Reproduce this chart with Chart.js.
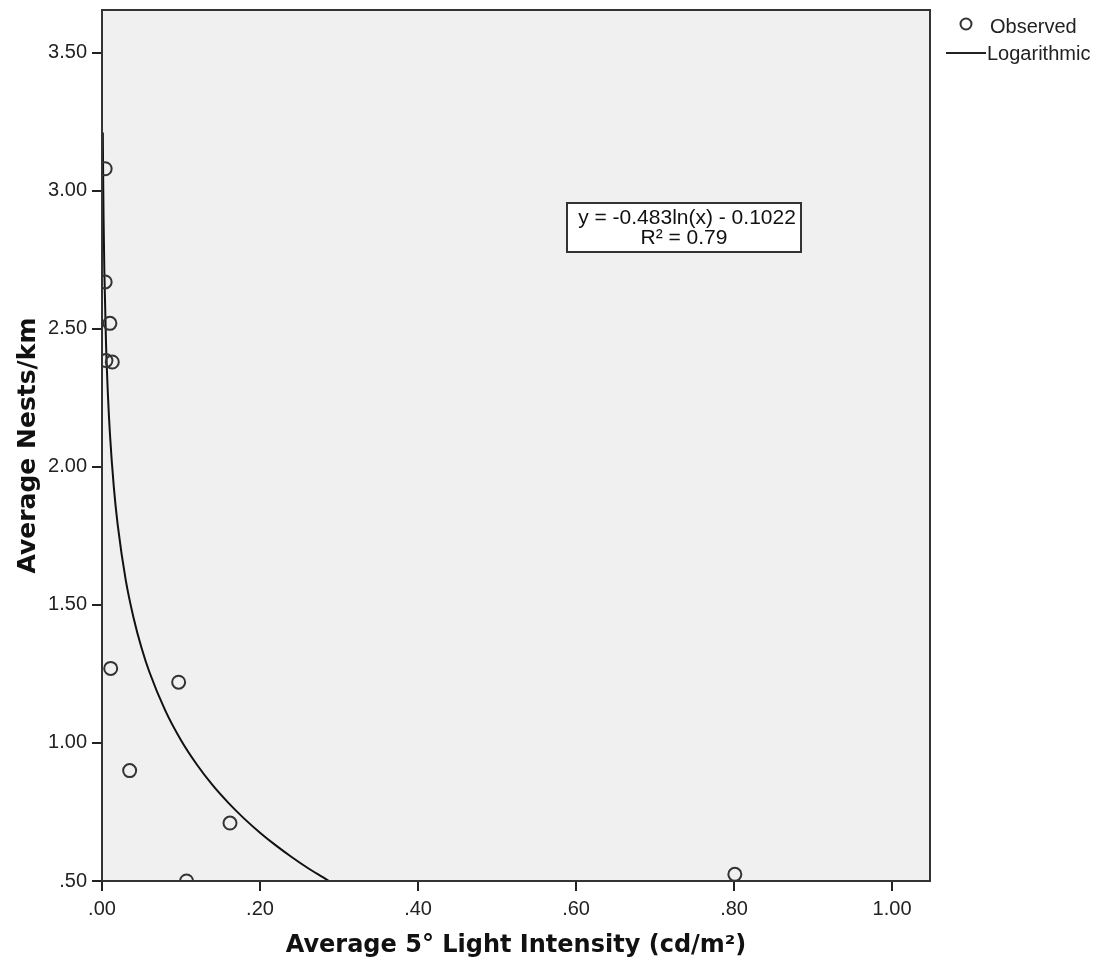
<!DOCTYPE html>
<html>
<head>
<meta charset="utf-8">
<script src="https://cdn.jsdelivr.net/npm/chart.js@4.4.1/dist/chart.umd.min.js"></script>
<style>
html,body{margin:0;padding:0;background:#fff;}
#wrap{position:relative;width:1105px;height:977px;}
</style>
</head>
<body>
<div id="wrap"><canvas id="c" width="1105" height="977"></canvas></div>
<script>
// Observed data (Average 5° light intensity vs average nests/km)
const obsX = [0.004, 0.004, 0.010, 0.005, 0.013, 0.011, 0.097, 0.035, 0.162, 0.107, 0.801];
const obsY = [3.08, 2.67, 2.52, 2.385, 2.38, 1.27, 1.22, 0.90, 0.71, 0.50, 0.524];

// Logarithmic fit curve points
const fitX = [0.00105, 0.0015, 0.002, 0.003, 0.005, 0.0075, 0.01, 0.015, 0.02, 0.03, 0.04, 0.05, 0.06, 0.08, 0.10, 0.12, 0.14, 0.16, 0.18, 0.20, 0.22, 0.24, 0.26, 0.28, 0.2874];
const fitY = [3.211, 3.038, 2.899, 2.704, 2.457, 2.261, 2.122, 1.926, 1.787, 1.591, 1.453, 1.345, 1.257, 1.118, 1.010, 0.922, 0.847, 0.783, 0.726, 0.675, 0.629, 0.587, 0.548, 0.513, 0.500];

const xTicks = [0, 0.2, 0.4, 0.6, 0.8, 1.0];
const yTicks = [0.5, 1.0, 1.5, 2.0, 2.5, 3.0, 3.5];

const xTitle = 'Average 5° Light Intensity (cd/m²)';
const yTitle = 'Average Nests/km';
const legendLabels = ['Observed', 'Logarithmic'];
const eqLines = ['y = -0.483ln(x) - 0.1022', 'R² = 0.79'];

const fmt = v => { const s = Number(v).toFixed(2); return s.startsWith('0.') ? s.slice(1) : s; };

const decor = {
  id: 'decor',
  beforeDatasetsDraw(chart) {
    const {ctx, chartArea: a} = chart;
    ctx.save();
    ctx.fillStyle = '#f0f0f0';
    ctx.fillRect(a.left, a.top, a.right - a.left, a.bottom - a.top);
    ctx.restore();
  },
  afterDraw(chart) {
    const {ctx, chartArea: a} = chart;
    ctx.save();
    // frame
    ctx.strokeStyle = '#333';
    ctx.lineWidth = 2;
    ctx.strokeRect(a.left, a.top, a.right - a.left, a.bottom - a.top);
    // equation box
    const bx = a.left + 465, by = a.top + 193, bw = 234, bh = 49;
    ctx.fillStyle = '#fff';
    ctx.fillRect(bx, by, bw, bh);
    ctx.strokeStyle = '#333';
    ctx.lineWidth = 2;
    ctx.strokeRect(bx, by, bw, bh);
    ctx.fillStyle = '#111';
    ctx.font = '21px "Liberation Sans", Arial, sans-serif';
    ctx.textAlign = 'center';
    ctx.textBaseline = 'middle';
    ctx.fillText(eqLines[0], bx + bw / 2 + 3, by + 15);
    ctx.fillText(eqLines[1], bx + bw / 2, by + 35);
    // legend
    const lx = a.right + 36;
    ctx.strokeStyle = '#333';
    ctx.lineWidth = 2;
    ctx.beginPath();
    ctx.arc(lx, 24, 5.5, 0, Math.PI * 2);
    ctx.stroke();
    ctx.strokeStyle = '#222';
    ctx.beginPath();
    ctx.moveTo(a.right + 16, 53);
    ctx.lineTo(a.right + 56, 53);
    ctx.stroke();
    ctx.fillStyle = '#222';
    ctx.font = '20px "Liberation Sans", Arial, sans-serif';
    ctx.textAlign = 'left';
    ctx.fillText(legendLabels[0], a.right + 60, 27);
    ctx.fillText(legendLabels[1], a.right + 57, 54);
    ctx.restore();
  }
};

new Chart(document.getElementById('c'), {
  type: 'scatter',
  data: {
    datasets: [
      {
        label: legendLabels[0],
        data: obsX.map((x, i) => ({x, y: obsY[i]})),
        pointRadius: 6.5,
        pointBorderWidth: 2,
        pointBorderColor: '#333',
        pointBackgroundColor: 'rgba(0,0,0,0)',
        showLine: false,
        clip: 0
      },
      {
        label: legendLabels[1],
        data: fitX.map((x, i) => ({x, y: fitY[i]})),
        showLine: true,
        pointRadius: 0,
        borderColor: '#111',
        borderWidth: 2,
        cubicInterpolationMode: 'monotone',
        clip: 0
      }
    ]
  },
  options: {
    responsive: false,
    animation: false,
    layout: {padding: {left: 0, right: 175, top: 10, bottom: 0}},
    plugins: {legend: {display: false}, tooltip: {enabled: false}},
    scales: {
      x: {
        type: 'linear',
        min: 0,
        max: 1.048,
        afterBuildTicks: s => { s.ticks = xTicks.map(v => ({value: v})); },
        afterFit: s => { s.height = 96; s.paddingLeft = 0; s.paddingRight = 0; },
        grid: {drawOnChartArea: false, drawTicks: true, tickLength: 10, color: '#222', lineWidth: 2},
        border: {display: true, color: '#333', width: 2},
        ticks: {callback: v => fmt(v), color: '#222', padding: 6, maxRotation: 0,
                font: {family: '"Liberation Sans", Arial, sans-serif', size: 20}},
        title: {display: true, text: xTitle, color: '#111', padding: {top: 0, bottom: 17},
                font: {family: '"DejaVu Sans", Verdana, sans-serif', size: 24, weight: 'bold'}}
      },
      y: {
        type: 'linear',
        min: 0.5,
        max: 3.655,
        afterBuildTicks: s => { s.ticks = yTicks.map(v => ({value: v})); },
        afterFit: s => { s.width = 102; s.paddingTop = 0; s.paddingBottom = 0; },
        grid: {drawOnChartArea: false, drawTicks: true, tickLength: 10, color: '#222', lineWidth: 2},
        border: {display: true, color: '#333', width: 2},
        ticks: {callback: v => fmt(v), color: '#222', padding: 5,
                font: {family: '"Liberation Sans", Arial, sans-serif', size: 20}},
        title: {display: true, text: yTitle, color: '#111', padding: {top: 13, bottom: 0},
                font: {family: '"DejaVu Sans", Verdana, sans-serif', size: 25, weight: 'bold'}}
      }
    }
  },
  plugins: [decor]
});
</script>
</body>
</html>
